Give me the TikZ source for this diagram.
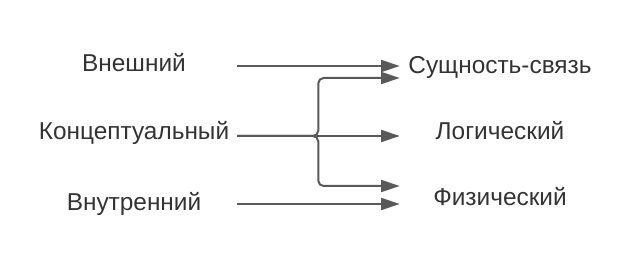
\documentclass[tikz,border=0pt]{standalone}
\usepackage{fontspec}
\setmainfont{Liberation Sans}
\usepackage{xcolor}
\usetikzlibrary{arrows.meta,calc}

\definecolor{txtgray}{HTML}{333333}
\definecolor{linegray}{HTML}{595959}

\begin{document}
\begin{tikzpicture}[
    x=0.75pt, y=-0.75pt,
    every node/.style={font=\fontsize{18.3}{22}\selectfont, text=txtgray},
    lvl/.style={inner sep=0pt, minimum width=154.5pt, text height=13.1pt, text depth=0pt},
    model/.style={inner sep=0pt, minimum width=150pt, text height=13.1pt, text depth=0pt},
    arr/.style={-{Triangle[length=14pt,width=9pt]}, line width=1.5pt, draw=linegray}
]
\useasboundingbox (0,0) rectangle (637,256);

% levels
\node[lvl] (ext) at (134,63) {Внешний};
\node[lvl] (con) at (134,131) {Концептуальный};
\node[lvl] (int) at (134,202) {Внутренний};

% models
\node[model] (er) at (500,65) {Сущность-связь};
\node[model] (log) at (500,131) {Логический};
\node[model] (phy) at (500,197) {Физический};

\coordinate (fork) at ($(con.east)+(81,5)$);

\draw[arr] ($(ext.east)+(0,3)$) -- ($(er.west)+(0,1)$);
\draw[arr, rounded corners=4pt] ($(con.east)+(0,5)$) -- (fork) |- ($(er.west)+(0,13)$);
\draw[arr] ($(con.east)+(0,5)$) -- ($(log.west)+(0,5)$);
\draw[arr, rounded corners=4pt] ($(con.east)+(0,5)$) -- (fork) |- ($(phy.west)+(0,-11)$);
\draw[arr] ($(int.east)+(0,2)$) -- ($(phy.west)+(0,7)$);
\end{tikzpicture}
\end{document}
